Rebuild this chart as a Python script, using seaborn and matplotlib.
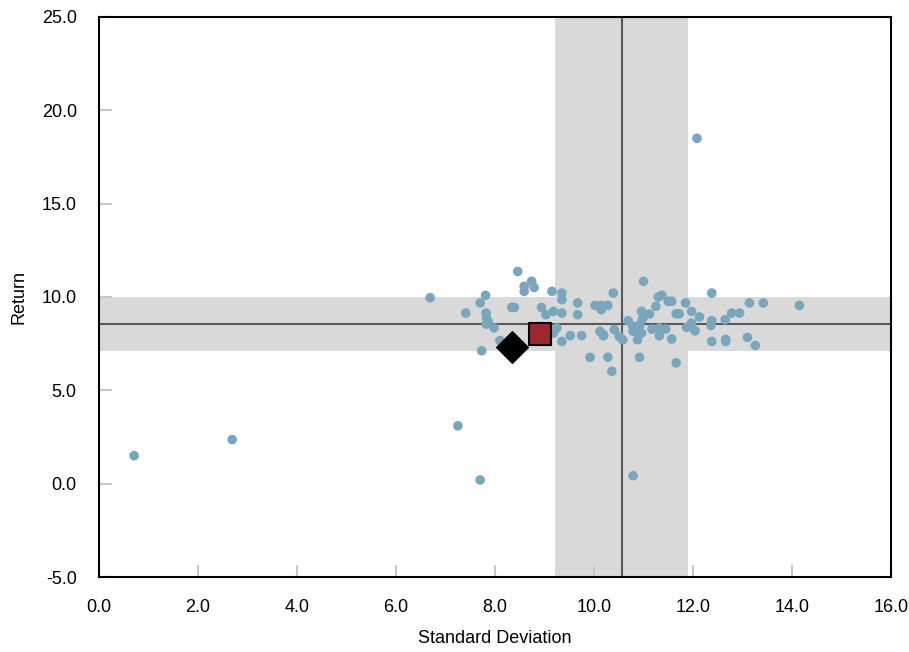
import numpy as np
import pandas as pd
import matplotlib.pyplot as plt
import seaborn as sns

# peer funds: standard deviation / return
std_dev = [
    0.71, 2.69, 6.69, 7.25, 7.70, 12.08, 10.79, 14.15,
    8.46, 8.74, 8.59, 8.79, 8.59, 7.81, 7.70, 7.41, 7.82, 8.34, 8.39, 8.94,
    9.15, 9.35, 9.35, 9.67, 10.39, 10.02, 10.15, 10.28, 10.15, 9.03, 9.18,
    9.35, 9.67, 7.83, 7.86, 7.82, 7.98, 8.10, 7.73, 9.25, 9.18, 9.35, 9.52,
    9.75, 9.92, 10.28, 10.36, 10.12, 10.19, 10.41, 10.51,
    11.00, 10.96, 11.12, 11.25, 11.30, 11.37, 11.50, 11.57, 11.66, 11.72,
    11.85, 11.97, 12.13, 12.38, 12.38, 10.69, 10.98, 10.93, 10.78, 10.86,
    10.79, 10.90, 10.96, 10.88, 11.17, 11.32, 11.45, 11.32, 11.57, 11.87,
    11.97, 12.04, 12.36, 12.38, 12.65, 12.66, 12.66, 12.78, 12.94, 13.14,
    13.42, 13.10, 13.26, 10.92, 11.66, 10.19, 10.58,
]
returns = [
    1.50, 2.36, 9.96, 3.10, 0.20, 18.50, 0.43, 9.55,
    11.37, 10.84, 10.57, 10.51, 10.30, 10.09, 9.68, 9.14, 9.14, 9.44, 9.44, 9.44,
    10.30, 10.21, 9.86, 9.68, 10.21, 9.55, 9.55, 9.55, 9.32, 9.05, 9.23,
    9.14, 9.05, 8.87, 8.69, 8.55, 8.34, 7.66, 7.12, 8.34, 8.07, 7.62, 7.93,
    7.93, 6.77, 6.77, 6.02, 8.16, 7.93, 8.25, 7.89,
    10.84, 9.23, 9.09, 9.50, 10.00, 10.09, 9.77, 9.77, 9.10, 9.10,
    9.68, 9.23, 8.93, 10.21, 8.73, 8.73, 8.82, 8.52, 8.43, 8.43,
    8.16, 8.16, 8.07, 7.71, 8.28, 8.34, 8.28, 7.93, 7.75, 8.37,
    8.60, 8.19, 8.48, 7.62, 8.78, 7.73, 7.62, 9.14, 9.14, 9.68,
    9.68, 7.84, 7.41, 6.77, 6.47, 7.98, 7.71,
]

# highlighted points
fund_xy = (8.91, 8.03)       # red square
bench_xy = (8.34, 7.30)      # black diamond

# peer median lines and ranges
median_std = 10.57
median_ret = 8.57
std_band = (9.21, 11.90)
ret_band = (7.12, 10.02)

sns.set_style("white")
plt.rcParams["font.family"] = ["Liberation Sans Narrow", "Liberation Sans", "DejaVu Sans"]

df = pd.DataFrame({"Standard Deviation": std_dev, "Return": returns})

fig = plt.figure(figsize=(9.09, 6.52), dpi=100)
ax = fig.add_axes([0.1089, 0.115, 0.8713, 0.859])

ax.axvspan(*std_band, color="#D9D9D9", lw=0, zorder=0)
ax.axhspan(*ret_band, color="#D9D9D9", lw=0, zorder=0)
ax.axvline(median_std, color="#595959", lw=1.5, zorder=1)
ax.axhline(median_ret, color="#595959", lw=1.5, zorder=1)

sns.scatterplot(data=df, x="Standard Deviation", y="Return", ax=ax,
                color="#79A6BC", s=48, edgecolor="none", zorder=2)
ax.scatter(*bench_xy, marker="D", s=260, color="black", zorder=3)
ax.scatter(*fund_xy, marker="s", s=230, color="#9B2830",
           edgecolor="black", linewidth=1.5, zorder=3)

ax.set_xlim(0, 16)
ax.set_ylim(-5, 25)
ax.set_xticks(np.arange(0, 16.1, 2))
ax.set_yticks(np.arange(-5, 25.1, 5))
ax.set_xticklabels([f"{v:.1f}" for v in np.arange(0, 16.1, 2)])
ax.set_yticklabels([f"{v:.1f}" for v in np.arange(-5, 25.1, 5)])
ax.tick_params(axis="both", direction="in", length=9, width=1.5,
               color="#C8C8C8", labelsize=13, labelcolor="black",
               bottom=True, left=True)
ax.tick_params(axis="x", pad=16)
ax.tick_params(axis="y", pad=16)
for s in ax.spines.values():
    s.set_color("black")
    s.set_linewidth(1.5)

ax.set_xlabel("Standard Deviation", fontsize=13, labelpad=10, color="black")
ax.set_ylabel("Return", fontsize=13, labelpad=10, color="black")

fig.savefig("out.png", dpi=100)
